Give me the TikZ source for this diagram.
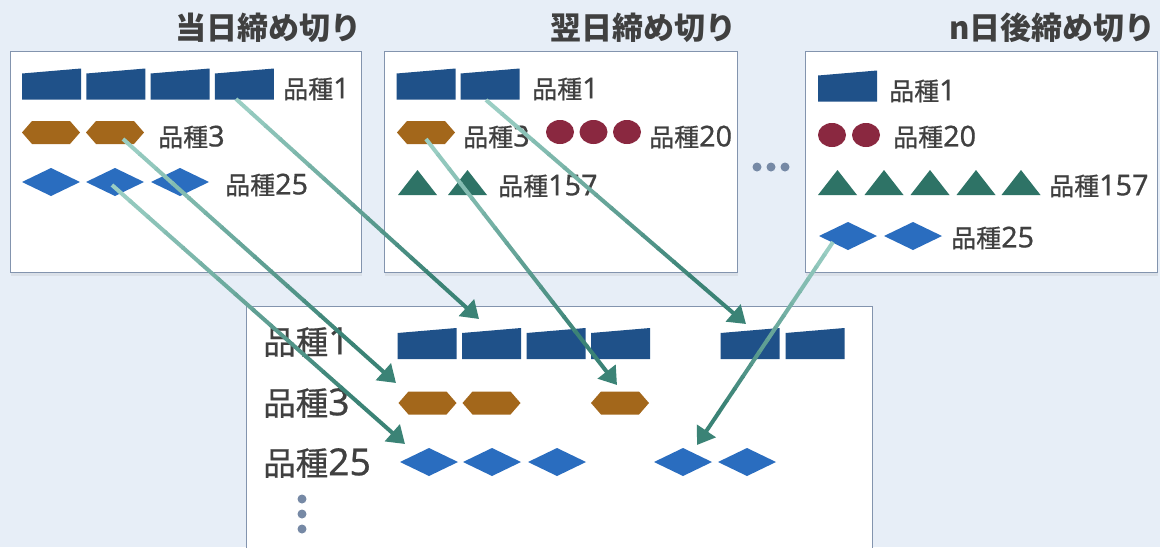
\documentclass[tikz,border=0pt]{standalone}
\usepackage{fontspec}
\setmainfont{Noto Sans CJK JP}
\newfontfamily\jpm[FakeBold=0.6]{Noto Sans CJK JP}
\newfontfamily\lat[Scale=1.15,FakeBold=0.6]{Noto Sans}
\newcommand\dg[1]{{\lat #1}}
\usetikzlibrary{arrows.meta,calc,shadows}
\definecolor{bg}{HTML}{E7EEF7}
\definecolor{boxc}{HTML}{8394AE}
\definecolor{trapc}{HTML}{1F5189}
\definecolor{hexc}{HTML}{A3671B}
\definecolor{diac}{HTML}{2A6DBF}
\definecolor{circc}{HTML}{8A2840}
\definecolor{tric}{HTML}{2E7366}
\definecolor{txt}{HTML}{404040}
\definecolor{dotc}{HTML}{7689A5}
\definecolor{alight}{HTML}{9ACEC3}
\definecolor{adark}{HTML}{3B8376}
\newcommand\trapz[2]{\fill[trapc] ({#1-29.5},{#2+15.5}) -- ({#1-29.5},{#2-10.5}) -- ({#1+29.5},{#2-15.5}) -- ({#1+29.5},{#2+15.5}) -- cycle;}
\newcommand\hexa[2]{\fill[hexc] ({#1-29},#2) -- ({#1-19},{#2-11.5}) -- ({#1+19},{#2-11.5}) -- ({#1+29},#2) -- ({#1+19},{#2+11.5}) -- ({#1-19},{#2+11.5}) -- cycle;}
\newcommand\diam[2]{\fill[diac] ({#1-29},#2) -- (#1,{#2-14}) -- ({#1+29},#2) -- (#1,{#2+14}) -- cycle;}
\newcommand\ovl[2]{\fill[circc] (#1,#2) ellipse [x radius=14, y radius=12];}
\newcommand\tri[2]{\fill[tric] ({#1-19.5},{#2+12.5}) -- (#1,{#2-12.5}) -- ({#1+19.5},{#2+12.5}) -- cycle;}
\newcommand\garrow[2]{%
  \foreach \k in {0,...,13}{%
    \pgfmathsetmacro\ta{\k*0.06}\pgfmathsetmacro\tb{\k*0.06+0.065}%
    \pgfmathtruncatemacro\mix{100-\k*100/13}%
    \draw[conn, draw=alight!\mix!adark] ($(#1)!\ta!(#2)$) -- ($(#1)!\tb!(#2)$);}
  \draw[conn, draw=adark, -{Triangle[length=17pt,width=22pt]}] ($(#1)!0.84!(#2)$) -- (#2);}
\begin{document}
\begin{tikzpicture}[x=1pt,y=-1pt,
  panel/.style={draw=boxc, line width=1pt, fill=white, drop shadow={shadow xshift=1pt, shadow yshift=-4pt, opacity=0.12}},
  lab/.style={font=\jpm\fontsize{25}{25}\selectfont, text=txt, inner sep=0pt, anchor=west},
  biglab/.style={font=\jpm\fontsize{32.5}{32.5}\selectfont, text=txt, inner sep=0pt, anchor=west},
  ttl/.style={font=\bfseries\fontsize{31}{31}\selectfont, text=txt, inner sep=0pt, anchor=east},
  conn/.style={line width=4pt, line cap=butt}]
\useasboundingbox (0,0) rectangle (1160,547);
\clip (0,0) rectangle (1160,547);
\fill[bg] (0,0) rectangle (1160,547);
% titles
\node[ttl] (t1) at (362,28) {当日締め切り};
\node[ttl] (t2) at (737,28) {翌日締め切り};
\node[ttl] (t3) at (1156,28) {n日後締め切り};
% panels
\draw[panel] (10,51) rectangle (361,272);
\draw[panel] (384,51) rectangle (737,272);
\draw[panel] (805,51) rectangle (1157,272);
\draw[panel] (246,306) rectangle (872,570);
% panel 1
\foreach \x in {51.5,115.8,180.1,244.4} {\trapz{\x}{84}}
\foreach \x in {51,115} {\hexa{\x}{132.5}}
\foreach \x in {51,115,180} {\diam{\x}{182}}
\node[lab] (a1) at (283,89) {品種\dg{1}};
\node[lab] (a3) at (158,137) {品種\dg{3}};
\node[lab] (a25) at (225,185) {品種\dg{25}};
% panel 2
\foreach \x in {426,490} {\trapz{\x}{84}}
\hexa{426}{132.5}
\foreach \x in {560,593.5,627} {\ovl{\x}{132}}
\foreach \x in {417.5,467.5} {\tri{\x}{182.5}}
\node[lab] (b1) at (532,89) {品種\dg{1}};
\node[lab] (b3) at (463,137) {品種\dg{3}};
\node[lab] (b20) at (649,137) {品種\dg{20}};
\node[lab] (b157) at (498,186) {品種\dg{157}};
% panel 3
\trapz{847.5}{86}
\foreach \x in {832,866} {\ovl{\x}{135}}
\foreach \x in {837.5,884,930,976,1021} {\tri{\x}{182.5}}
\foreach \x in {848,913} {\diam{\x}{236}}
\node[lab] (c1) at (889,91) {品種\dg{1}};
\node[lab] (c20) at (893,137) {品種\dg{20}};
\node[lab] (c157) at (1049,186) {品種\dg{157}};
\node[lab] (c25) at (951,238) {品種\dg{25}};
% dots between panels
\foreach \x in {757,771,785} {\fill[dotc] (\x,167) circle (4.5);}
% bottom panel
\foreach \x in {427,491.5,556,620.5,750,815} {\trapz{\x}{343.5}}
\foreach \x in {427.5,491.5,620} {\hexa{\x}{403}}
\foreach \x in {429,492,557,683,747} {\diam{\x}{462}}
\node[biglab] (d1) at (263,342) {品種\dg{1}};
\node[biglab] (d3) at (263,403) {品種\dg{3}};
\node[biglab] (d25) at (263,463) {品種\dg{25}};
\foreach \y in {499,514,529} {\fill[dotc] (302,\y) circle (4.5);}
% connector ends
\coordinate (s1) at (236,99);  \coordinate (e1) at (479,319);
\coordinate (s2) at (123,139); \coordinate (e2) at (396,383);
\coordinate (s3) at (112,185); \coordinate (e3) at (405,444);
\coordinate (s4) at (486,100); \coordinate (e4) at (746,324);
\coordinate (s5) at (426,139); \coordinate (e5) at (617,385);
\coordinate (s6) at (833,242); \coordinate (e6) at (697,445);
\garrow{s1}{e1}
\garrow{s2}{e2}
\garrow{s3}{e3}
\garrow{s4}{e4}
\garrow{s5}{e5}
\garrow{s6}{e6}
\end{tikzpicture}
\end{document}
